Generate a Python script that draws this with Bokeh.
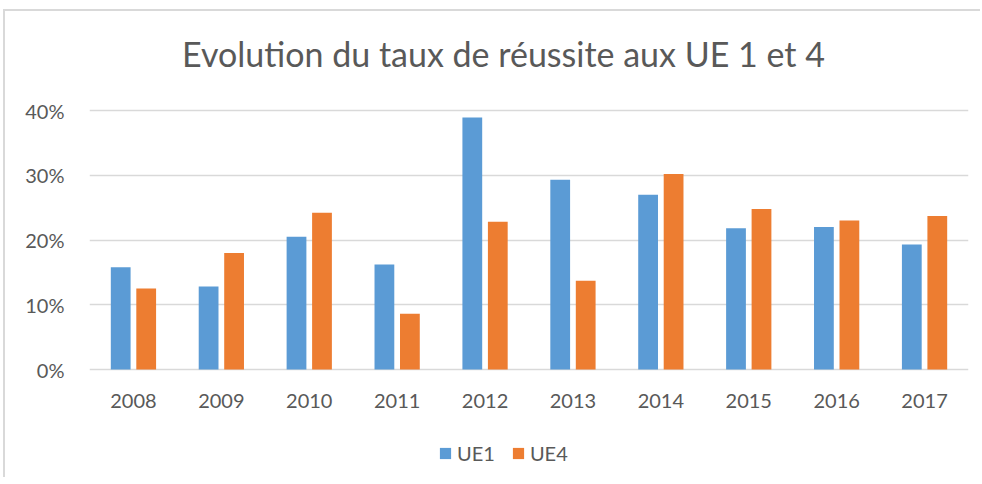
from bokeh.plotting import figure
from bokeh.models import Range1d, NumeralTickFormatter, FixedTicker, Legend, LegendItem, Label
from bokeh.transform import dodge
from bokeh.core.properties import value
from bokeh.embed import file_html
from bokeh.resources import INLINE

years = ["2008", "2009", "2010", "2011", "2012", "2013", "2014", "2015", "2016", "2017"]
ue1 = [0.158, 0.128, 0.205, 0.162, 0.389, 0.293, 0.270, 0.218, 0.220, 0.193]
ue4 = [0.125, 0.180, 0.242, 0.086, 0.228, 0.137, 0.302, 0.248, 0.230, 0.237]
y_ticks = [0.0, 0.1, 0.2, 0.3, 0.4]
title_text = "Evolution du taux de réussite aux UE 1 et 4"
series_names = ["UE1", "UE4"]

BLUE = "#5B9BD5"
ORANGE = "#ED7D31"
TXT = "#595959"
GRID = "#D9D9D9"
FONT = "Lato"

# canvas geometry (px): value axis 0..40% spans 259 px, 40% line 99 px below canvas top
H = 468
W = 977
TOP40 = 99
PX = 0.4 / 259.0
y_top = 0.4 + TOP40 * PX
y_bot = 0.4 - (H - TOP40) * PX

p = figure(x_range=years, y_range=Range1d(y_bot, y_top), width=W, height=H,
           output_backend="svg", toolbar_location=None, title_location=None,
           min_border_left=84, min_border_right=W - 963, min_border_top=0, min_border_bottom=0)
p.styles = {"border-left": "2px solid #D9D9D9", "border-top": "2px solid #D9D9D9",
            "margin-left": "3px", "margin-top": "9px"}
p.outline_line_color = None

src = dict(year=years, ue1=ue1, ue4=ue4)
r1 = p.vbar(x=dodge("year", -0.145, range=p.x_range), top="ue1", bottom=0, width=0.225,
            source=src, fill_color=BLUE, line_color=None)
r2 = p.vbar(x=dodge("year", 0.145, range=p.x_range), top="ue4", bottom=0, width=0.225,
            source=src, fill_color=ORANGE, line_color=None)

# category labels just below the 0% line
p.text(x="year", y=0, text="year", source=src, y_offset=31,
       text_font=value(FONT), text_font_size="20px", text_color=TXT,
       text_align="center", text_baseline="middle")

p.xaxis.visible = False
p.xgrid.grid_line_color = None
p.ygrid.ticker = FixedTicker(ticks=y_ticks)
p.ygrid.grid_line_color = GRID
p.ygrid.grid_line_width = 1.5
p.yaxis.ticker = FixedTicker(ticks=y_ticks)
p.yaxis.formatter = NumeralTickFormatter(format="0%")
yax = p.yaxis[0]
yax.axis_line_color = None
yax.major_tick_line_color = None
yax.minor_tick_line_color = None
yax.major_label_text_font = FONT
yax.major_label_text_font_size = "20px"
yax.major_label_text_color = TXT
yax.major_label_standoff = 19

title = Label(x=4.71, y=0.4 + 57 * PX, text=title_text, text_font=FONT,
              text_font_size="34px", text_color=TXT,
              text_align="center", text_baseline="middle")
p.add_layout(title)

legend = Legend(items=[LegendItem(label=series_names[0], renderers=[r1]),
                       LegendItem(label=series_names[1], renderers=[r2])],
                orientation="horizontal", location=(349, 14),
                label_text_font=FONT, label_text_font_size="20px", label_text_color=TXT,
                glyph_width=14, glyph_height=14, spacing=16, padding=0, margin=0,
                label_standoff=5, border_line_color=None, background_fill_alpha=0)
p.add_layout(legend)

open("out.html", "w").write(file_html(p, INLINE))
